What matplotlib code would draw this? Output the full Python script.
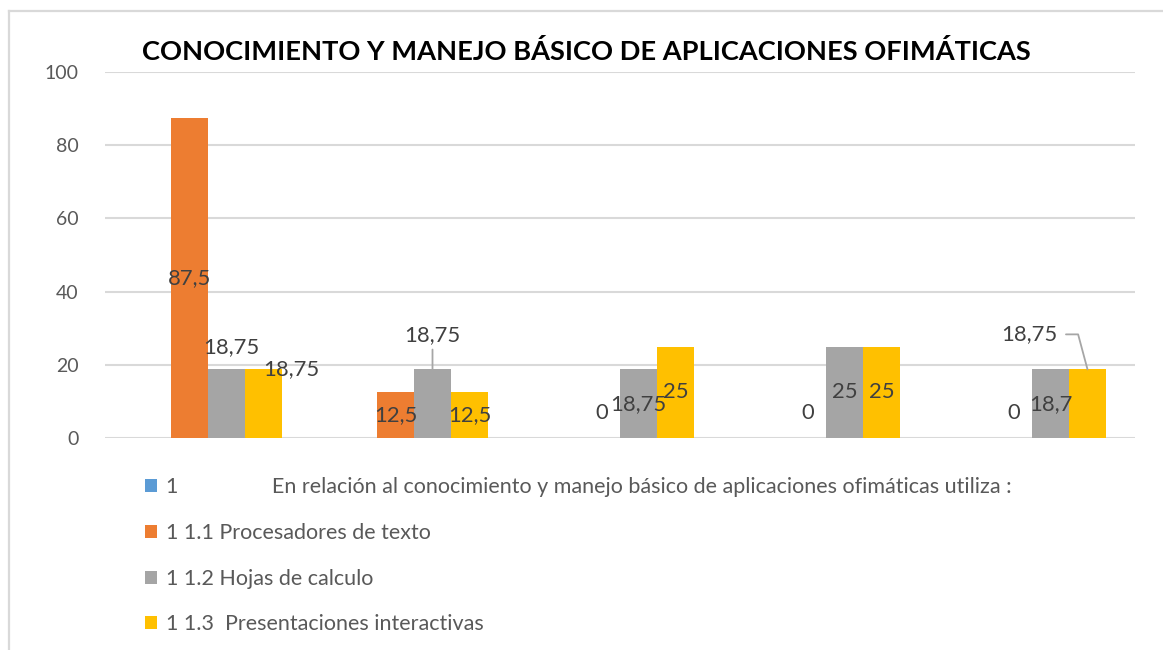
import numpy as np
import matplotlib
matplotlib.use("Agg")
import matplotlib.pyplot as plt
from matplotlib.patches import Patch
from matplotlib.lines import Line2D

# ---------------- data ----------------
categories = ["1", "2", "3", "4", "5"]
series_names = [
    "1",
    "1 1.1 Procesadores de texto",
    "1 1.2 Hojas de calculo",
    "1 1.3  Presentaciones interactivas",
]
intro_text = "En relación al conocimiento y manejo básico de aplicaciones ofimáticas utiliza :"
encabezado = [np.nan, np.nan, np.nan, np.nan, np.nan]
procesadores = [87.5, 12.5, 0, 0, 0]
hojas = [18.75, 18.75, 18.75, 25, 18.75]
presentaciones = [18.75, 12.5, 25, 25, 18.75]
yticks = [0, 20, 40, 60, 80, 100]
title = "CONOCIMIENTO Y MANEJO BÁSICO DE APLICACIONES OFIMÁTICAS"
label_overrides = {(2, 4): "18,7"}

colors = ["#5B9BD5", "#ED7D31", "#A5A5A5", "#FFC000"]
FONT = "Lato"

W, H = 1163, 650
fig = plt.figure(figsize=(W / 100, H / 100), dpi=100)
fig.patch.set_facecolor("white")
ax = fig.add_axes([105 / W, 1 - 438 / H, (1135 - 105) / W, (438 - 72) / H])

series = [encabezado, procesadores, hojas, presentaciones]
x = np.arange(len(categories))
bw = 37 / 206
for k, vals in enumerate(series):
    v = np.array(vals, dtype=float)
    ax.bar(x + (k - 1.5) * bw, v, width=bw, color=colors[k], linewidth=0, zorder=3)

ax.set_xlim(-0.5, len(categories) - 0.5)
ax.set_ylim(0, 100)
ax.set_yticks(yticks)
ax.set_yticklabels([str(t) for t in yticks], fontfamily=FONT, fontsize=14, color="#595959")
ax.set_xticks([])
ax.tick_params(axis="y", length=0, pad=19)
for s in ax.spines.values():
    s.set_visible(False)
ax.grid(axis="y", color="#D9D9D9", linewidth=1.5, zorder=0)
ax.set_axisbelow(True)

# --------------- data labels ---------------
def fmt(v):
    return ("%g" % v).replace(".", ",")

special = {
    (2, 0): ("top", (5, 22), None),
    (3, 0): ("top", (28, 0), None),
    (2, 1): ("top", (0, 34), "vertical"),
    (3, 4): ("top", (-58, 35), "angle"),
}
lab_kw = dict(fontfamily=FONT, fontsize=15.8, color="#404040", ha="center", va="center",
              textcoords="offset pixels", zorder=5)
for k in range(1, 4):
    for i, v in enumerate(series[k]):
        xc = x[i] + (k - 1.5) * bw
        txt = label_overrides.get((k, i), fmt(v))
        if (k, i) in special:
            anchor, off, leader = special[(k, i)]
        elif v == 0:
            anchor, off, leader = "base", (0, 25), None
        else:
            anchor, off, leader = "mid", (0, 0), None
        y = {"top": v, "mid": v / 2, "base": 0}[anchor]
        arrow = None
        if leader == "vertical":
            arrow = dict(arrowstyle="-", color="#A6A6A6", lw=1.3, shrinkA=1, shrinkB=0)
        elif leader == "angle":
            arrow = dict(arrowstyle="-", color="#A6A6A6", lw=1.3, shrinkA=4, shrinkB=0,
                         relpos=(1, 0.5), connectionstyle="angle,angleA=0,angleB=105,rad=0")
        ax.annotate(txt, xy=(xc, y), xytext=off, arrowprops=arrow, **lab_kw)

# --------------- title ---------------
fig.text(586 / W, 1 - 52 / H, title, ha="center", va="center", fontfamily=FONT,
         fontweight="bold", fontsize=19.6, color="black")

# --------------- legend ---------------
handles = [Patch(facecolor=c, edgecolor="none") for c in colors]
labels = [series_names[0] + " " * 17 + intro_text] + series_names[1:]
leg = fig.legend(handles, labels, loc="upper left", bbox_to_anchor=(145 / W, 1 - 477 / H),
                 frameon=False, prop={"family": FONT, "size": 15.5}, handlelength=0.56,
                 handleheight=0.56, handletextpad=0.42, labelspacing=1.2, borderpad=0,
                 borderaxespad=0)
for t in leg.get_texts():
    t.set_color("#595959")

# --------------- chart frame ---------------
fig.add_artist(Line2D([9 / W, 1.02], [1 - 11 / H, 1 - 11 / H], transform=fig.transFigure,
                      color="#D9D9D9", lw=1.6))
fig.add_artist(Line2D([9 / W, 9 / W], [1 - 11 / H, -0.02], transform=fig.transFigure,
                      color="#D9D9D9", lw=1.6))

fig.savefig("out.png", dpi=100, facecolor="white")
